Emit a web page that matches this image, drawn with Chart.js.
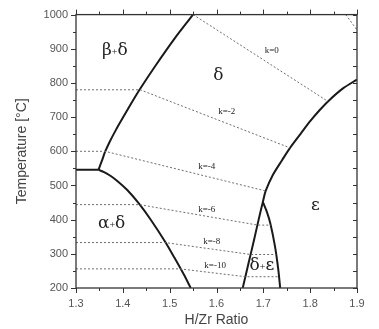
<!DOCTYPE html>
<html>
<head>
<meta charset="utf-8">
<script src="https://cdn.jsdelivr.net/npm/chart.js@4.4.1/dist/chart.umd.min.js"></script>
<style>
  html, body { margin: 0; padding: 0; background: #fff; }
  #wrap { width: 379px; height: 329px; }
</style>
</head>
<body>
<div id="wrap"><canvas id="chart" width="379" height="329"></canvas></div>
<script>
// axis ticks
const xTicks = [1.3, 1.4, 1.5, 1.6, 1.7, 1.8, 1.9];
const yTicks = [200, 300, 400, 500, 600, 700, 800, 900, 1000];

// phase boundaries (H/Zr, °C)
const betaDeltaX = [1.348, 1.355, 1.362, 1.372, 1.385, 1.40, 1.42, 1.437, 1.47, 1.51, 1.55];
const betaDeltaY = [546, 571, 598, 628, 662, 698, 745, 783, 851, 929, 1000];
const eutectoidX = [1.3, 1.348];
const eutectoidY = [546, 546];
const alphaDeltaX = [1.348, 1.36, 1.375, 1.39, 1.41, 1.435, 1.46, 1.49, 1.51, 1.53, 1.545];
const alphaDeltaY = [546, 539, 527, 511, 486, 446, 399, 336, 289, 240, 200];
// left edge of δ+ε continuing into the δ / ε boundary
const deltaEpsX = [1.656, 1.668, 1.68, 1.69, 1.699, 1.705, 1.72, 1.74, 1.757, 1.78, 1.80, 1.82, 1.838, 1.87, 1.90];
const deltaEpsY = [200, 270, 340, 400, 452, 484, 530, 574, 610, 652, 688, 720, 746, 784, 810];
const dEpsRightX = [1.699, 1.707, 1.715, 1.725, 1.732, 1.736];
const dEpsRightY = [452, 425, 389, 321, 253, 200];

// k isopleths (dotted)
const k0X = [1.55, 1.838];
const k0Y = [1000, 746];
const k2X = [1.3, 1.437, 1.757];
const k2Y = [780, 780, 610];
const k4X = [1.3, 1.362, 1.705];
const k4Y = [600, 600, 484];
const k6X = [1.3, 1.435, 1.688, 1.716];
const k6Y = [444, 444, 384, 384];
const k8X = [1.3, 1.49, 1.673, 1.727];
const k8Y = [333, 333, 298, 298];
const k10X = [1.3, 1.522, 1.662, 1.734];
const k10Y = [256, 256, 233, 233];
const cornerX = [1.876, 1.9];
const cornerY = [1000, 955];

// region / isopleth labels
const kLabels = ["k=0", "k=-2", "k=-4", "k=-6", "k=-8", "k=-10"];
const kLabelX = [1.718, 1.622, 1.579, 1.579, 1.59, 1.597];
const kLabelY = [895, 715, 554, 428, 335, 264];
const phaseLabels = [["β", "δ"], ["δ"], ["α", "δ"], ["ε"], ["δ", "ε"]];
const phaseLabelX = [1.383, 1.604, 1.376, 1.811, 1.697];
const phaseLabelY = [895, 822, 389, 442, 267];

function pts(xs, ys) {
  return xs.map((x, i) => ({ x: x, y: ys[i] }));
}

function boundary(xs, ys) {
  return { data: pts(xs, ys), showLine: true, pointRadius: 0, borderColor: "#1a1a1a", borderWidth: 2,
    tension: 0.3, fill: false };
}
function dotted(xs, ys) {
  return { data: pts(xs, ys), showLine: true, pointRadius: 0, borderColor: "#6e6e6e", borderWidth: 1,
    borderDash: [2, 2], tension: 0, fill: false };
}

const datasets = [
  dotted(k0X, k0Y), dotted(k2X, k2Y), dotted(k4X, k4Y), dotted(k6X, k6Y),
  dotted(k8X, k8Y), dotted(k10X, k10Y), dotted(cornerX, cornerY),
  boundary(betaDeltaX, betaDeltaY), boundary(eutectoidX, eutectoidY), boundary(alphaDeltaX, alphaDeltaY),
  boundary(deltaEpsX, deltaEpsY), boundary(dEpsRightX, dEpsRightY)
];

// frame with ticks on all four sides + labels
const framePlugin = {
  id: "frame",
  afterDatasetsDraw(chart) {
    const { ctx, chartArea: a, scales } = chart;
    const xs = scales.x, ys = scales.y;
    ctx.save();
    ctx.strokeStyle = "#333";
    ctx.lineWidth = 1.3;
    ctx.strokeRect(a.left, a.top, a.right - a.left, a.bottom - a.top);
    ctx.lineWidth = 1;
    ctx.beginPath();
    for (let v = 1.3; v <= 1.9001; v += 0.05) {
      const px = Math.round(xs.getPixelForValue(v)) + 0.5;
      const major = Math.abs(v * 10 - Math.round(v * 10)) < 0.01;
      const len = major ? 5 : 3;
      ctx.moveTo(px, a.bottom); ctx.lineTo(px, a.bottom + len);
      ctx.moveTo(px, a.top); ctx.lineTo(px, a.top - len);
    }
    for (let v = 200; v <= 1000; v += 50) {
      const py = Math.round(ys.getPixelForValue(v)) + 0.5;
      const major = v % 100 === 0;
      const len = major ? 5 : 3;
      ctx.moveTo(a.left, py); ctx.lineTo(a.left - len, py);
      ctx.moveTo(a.right, py); ctx.lineTo(a.right - 4, py);
    }
    ctx.stroke();

    // isopleth labels
    ctx.fillStyle = "#222";
    ctx.textAlign = "center";
    ctx.textBaseline = "middle";
    ctx.font = "9px 'Liberation Serif', serif";
    kLabels.forEach((t, i) => {
      ctx.fillText(t, xs.getPixelForValue(kLabelX[i]), ys.getPixelForValue(kLabelY[i]));
    });

    // phase labels, small "+" between letters
    phaseLabels.forEach((parts, i) => {
      const cx = xs.getPixelForValue(phaseLabelX[i]);
      const cy = ys.getPixelForValue(phaseLabelY[i]);
      const big = "17px 'DejaVu Serif', serif";
      const small = "10px 'Liberation Serif', serif";
      const pieces = [];
      parts.forEach((p, j) => {
        if (j > 0) pieces.push({ t: "+", f: small, dy: 2 });
        pieces.push({ t: p, f: big, dy: 0 });
      });
      let w = 0;
      pieces.forEach(p => { ctx.font = p.f; p.w = ctx.measureText(p.t).width; w += p.w; });
      let x = cx - w / 2;
      ctx.textAlign = "left";
      pieces.forEach(p => {
        ctx.font = p.f;
        ctx.fillText(p.t, x, cy + p.dy);
        x += p.w;
      });
    });
    ctx.restore();
  }
};

new Chart(document.getElementById("chart"), {
  type: "scatter",
  data: { datasets },
  options: {
    responsive: false,
    animation: false,
    devicePixelRatio: 1,
    layout: { padding: { top: 14, right: 22, left: 0, bottom: 0 } },
    plugins: { legend: { display: false }, tooltip: { enabled: false } },
    scales: {
      x: {
        type: "linear", min: 1.3, max: 1.9,
        afterBuildTicks: s => { s.ticks = xTicks.map(v => ({ value: v })); },
        afterFit: s => { s.height = 41; },
        grid: { display: false, drawTicks: false },
        border: { display: false },
        ticks: { padding: 9, color: "#555", font: { family: "'Liberation Sans', Arial", size: 11 },
          callback: v => Number(v).toFixed(1) },
        title: { display: true, text: "H/Zr Ratio", color: "#444", padding: { top: 0, bottom: 0 },
          font: { family: "'Liberation Sans', Arial", size: 14 } }
      },
      y: {
        type: "linear", min: 200, max: 1000,
        afterBuildTicks: s => { s.ticks = yTicks.map(v => ({ value: v })); },
        afterFit: s => { s.width = 76; },
        grid: { display: false, drawTicks: false },
        border: { display: false },
        ticks: { padding: 8, color: "#555", font: { family: "'Liberation Sans', Arial", size: 11 },
          callback: v => String(v) },
        title: { display: true, text: "Temperature [°C]", color: "#444", padding: { top: 14, bottom: 0 },
          font: { family: "'Liberation Sans', Arial", size: 14 } }
      }
    }
  },
  plugins: [framePlugin]
});
</script>
</body>
</html>
